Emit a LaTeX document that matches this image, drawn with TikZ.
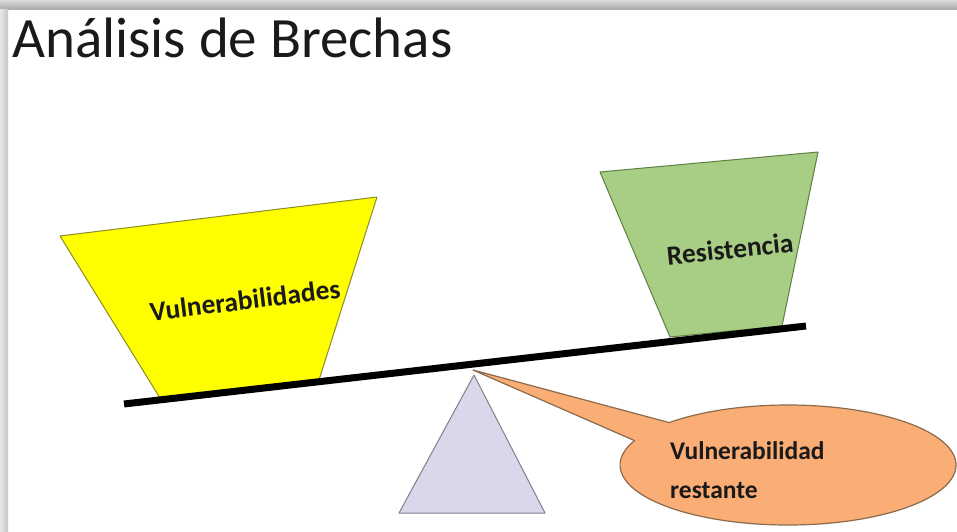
\documentclass[tikz,border=0pt]{standalone}
\usepackage{fontspec}
\setmainfont{Carlito}
\usetikzlibrary{shapes.geometric}
\definecolor{yel}{HTML}{FFFF00}
\definecolor{yelline}{HTML}{8C8C2A}
\definecolor{grn}{HTML}{A8CD84}
\definecolor{grnline}{HTML}{5E7F45}
\definecolor{lav}{HTML}{DAD7EA}
\definecolor{lavline}{HTML}{80808C}
\definecolor{org}{HTML}{FAAD74}
\definecolor{orgline}{HTML}{8A6B4E}
\definecolor{txt}{HTML}{1A1A1A}
\tikzset{
  bucket/.style={line width=1pt, line join=round},
  lbl/.style={font=\bfseries\fontsize{27.5}{30}\selectfont, text=txt, inner sep=0pt},
  ctext/.style={anchor=base west, inner sep=0pt, font=\bfseries\fontsize{25.5}{30}\selectfont, text=txt},
}
\begin{document}
\begin{tikzpicture}[x=1pt,y=-1pt]
\useasboundingbox (0,0) rectangle (957,531);
\fill[white] (0,0) rectangle (957,531);
% frame shadow
\shade[top color=gray!30, bottom color=gray!65] (0,0) rectangle (957,9);
\shade[left color=gray!20, right color=gray!45] (0,9) rectangle (8,531);
% title
\node[anchor=base west, inner sep=0pt, font=\fontsize{57}{62}\selectfont, text=txt] (title) at (12,57) {Análisis de Brechas};
% yellow bucket
\filldraw[bucket, fill=yel, draw=yelline] (60,236) -- (377,197) -- (319,380) -- (160,398) -- cycle;
\node[lbl, rotate=7] (vul) at (245,300) {Vulnerabilidades};
% green bucket
\filldraw[bucket, fill=grn, draw=grnline] (600,172) -- (818,152) -- (782,326) -- (670,337) -- cycle;
\node[lbl, rotate=6] (res) at (730,249) {Resistencia};
% fulcrum
\filldraw[line width=1pt, fill=lav, draw=lavline, line join=round] (474,375) -- (545,513) -- (399,513) -- cycle;
% callout
\coordinate (tip) at (473,370);
\filldraw[line width=1.2pt, fill=org, draw=orgline, line join=round]
  (tip) -- ({788+168*cos(225)},{465+60*sin(225)})
  arc[start angle=225, end angle=564, x radius=168, y radius=60] -- cycle;
\node[ctext] (rest) at (670,459) {Vulnerabilidad};
\node[ctext] (rest2) at (670,498) {restante};
% beam
\coordinate (bl) at (124,404);
\coordinate (br) at (806,326);
\draw[line width=7pt, black] (bl) -- (br);
\end{tikzpicture}
\end{document}
